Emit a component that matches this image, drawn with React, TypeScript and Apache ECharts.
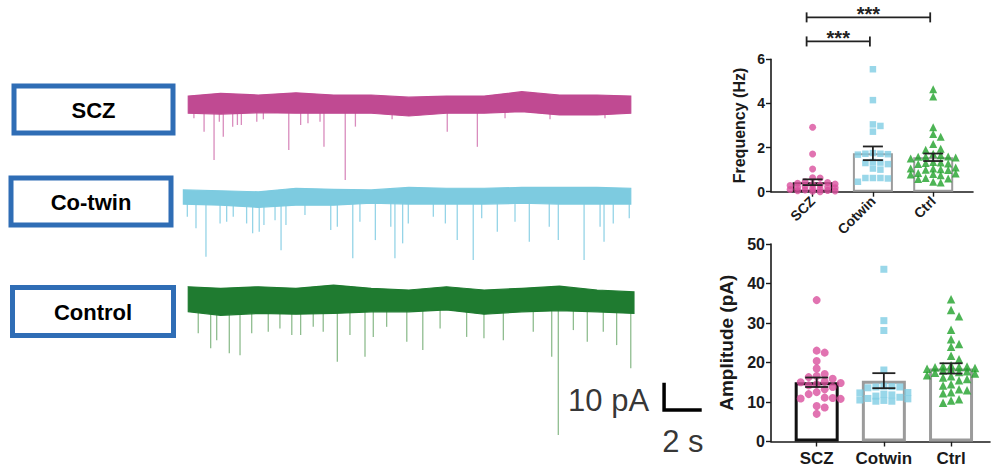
import React, { useEffect, useRef } from 'react';
import * as echarts from 'echarts';

// ---------- bar-chart data ----------
const groups = ['SCZ', 'Cotwin', 'Ctrl'];

const freqSCZ = [2.92, 1.71, 1.03, 0.63, 0.62, 0.45, 0.42, 0.38, 0.35, 0.32, 0.3, 0.28, 0.25, 0.22, 0.2, 0.18, 0.15, 0.12, 0.1, 0.08, 0.06, 0.05, 0.03, 0.02, 0.0];
const freqCotwin = [5.55, 4.15, 3.05, 2.98, 2.72, 1.75, 1.72, 1.7, 1.72, 1.68, 1.35, 1.3, 1.25, 1.32, 1.05, 1.0, 0.62, 0.6, 0.62, 0.62, 0.45];
const freqCtrl = [4.64, 4.31, 2.92, 2.61, 2.49, 2.16, 1.95, 1.9, 1.72, 1.65, 1.6, 1.6, 1.58, 1.55, 1.5, 1.35, 1.32, 1.3, 1.28, 1.25, 1.1, 1.05, 1.05, 1.02, 1.0, 0.98, 0.85, 0.82, 0.8, 0.78, 0.75, 0.62, 0.6, 0.58, 0.45, 0.42];
const freqMean = [0.43, 1.74, 1.56];
const freqSem = [0.13, 0.31, 0.17];

const ampSCZ = [35.8, 23.0, 22.5, 20.4, 18.5, 17.1, 16.6, 16.3, 15.9, 15.0, 15.2, 14.8, 14.5, 14.2, 13.8, 13.2, 12.5, 12.0, 11.0, 10.9, 10.8, 11.1, 9.0, 8.6, 7.0];
const ampCotwin = [43.6, 30.6, 28.1, 18.1, 14.0, 13.9, 13.8, 13.8, 13.6, 12.4, 12.3, 11.8, 11.2, 10.8, 10.4, 10.2, 10.2, 10.5, 10.9, 11.5, 12.0];
const ampCtrl = [36.0, 33.3, 31.7, 28.3, 25.9, 24.7, 24.0, 21.7, 20.8, 19.3, 19.1, 19.0, 18.9, 18.8, 18.6, 18.4, 18.2, 18.0, 17.8, 17.6, 17.4, 17.2, 16.8, 16.5, 16.2, 15.8, 15.5, 14.5, 14.2, 13.2, 13.0, 12.5, 12.2, 10.7, 10.4, 9.8];
const ampMean = [15.0, 15.4, 18.5];
const ampSem = [1.2, 1.9, 1.3];

const sigFrom = [0, 0];
const sigTo = [1, 2];
const sigHeight = [6.81, 7.9];
const sigText = ['***', '***'];

// ---------- trace data (time in s, current in pA) ----------
const traceLabels = ['SCZ', 'Co-twin', 'Control'];
const envT = [0, 2, 4, 6, 8, 10, 12, 14, 16, 18, 20, 22, 24];
const sczTop = [2.9, 3.9, 3.3, 4.1, 3.3, 3.3, 2.5, 2.9, 2.9, 4.5, 3.3, 3.3, 2.9];
const sczBottom = [-3.4, -3.7, -3.2, -3.4, -3.4, -3.4, -4.4, -3.4, -3.4, -2.8, -4.0, -4.0, -3.4];
const cotwinTop = [2.8, 2.5, 2.1, 3.4, 3.0, 2.8, 3.7, 3.4, 3.4, 3.7, 3.7, 3.7, 3.4];
const cotwinBottom = [-2.4, -2.8, -3.6, -2.8, -2.8, -2.1, -2.4, -2.4, -2.4, -2.1, -2.4, -2.4, -2.4];
const ctrlTop = [4.9, 4.3, 4.9, 4.3, 5.5, 4.3, 3.7, 4.9, 3.7, 4.3, 5.1, 3.7, 3.0];
const ctrlBottom = [-4.3, -5.6, -4.9, -5.2, -4.9, -4.3, -4.3, -3.6, -5.2, -4.3, -3.9, -4.3, -4.9];
const sczSpan = [0.28, 23.79];
const cotwinSpan = [0.02, 23.79];
const ctrlSpan = [0.28, 23.96];

const sczSpikeT = [0.58, 1.12, 1.65, 1.93, 2.14, 2.64, 2.89, 3.1, 3.92, 4.27, 5.62, 6.25, 6.64, 7.28, 7.49, 8.62, 9.16, 11.11, 14.04, 15.64, 17.11, 19.5, 22.42];
const sczSpikeA = [5.2, 10.2, 20.5, 6.5, 12.0, 8.3, 7.7, 7.7, 6.5, 5.6, 16.9, 7.7, 7.1, 6.5, 15.7, 27.9, 8.3, 5.6, 10.2, 15.7, 5.2, 5.6, 5.2];
const cotwinSpikeT = [0.23, 0.69, 1.22, 1.97, 2.32, 2.67, 3.38, 3.7, 4.05, 4.3, 4.89, 5.21, 5.47, 6.48, 7.85, 8.2, 9.02, 9.4, 10.22, 11.04, 11.26, 11.67, 11.97, 13.3, 13.94, 14.57, 15.42, 15.87, 16.7, 17.64, 18.4, 19.46, 19.94, 21.31, 22.16, 22.37, 22.86, 23.71];
const cotwinSpikeA = [7.0, 11.3, 21.7, 9.5, 8.9, 7.0, 9.5, 13.1, 12.5, 10.1, 8.3, 19.3, 10.1, 6.4, 11.9, 10.7, 22.3, 8.9, 15.6, 10.7, 22.3, 16.8, 9.5, 7.0, 9.5, 15.6, 22.9, 7.6, 12.5, 8.9, 16.2, 10.7, 15.6, 22.9, 10.7, 16.2, 9.5, 7.6];
const ctrlSpikeT = [0.81, 1.47, 1.79, 2.46, 3.03, 3.65, 4.53, 5.15, 5.78, 6.25, 6.92, 7.45, 8.2, 8.87, 9.67, 10.11, 10.82, 11.89, 12.74, 13.66, 15.07, 15.99, 17.02, 18.61, 19.59, 19.94, 20.74, 21.48, 22.33, 23.04, 23.79];
const ctrlSpikeA = [12.2, 17.7, 14.7, 19.5, 20.2, 12.2, 11.6, 10.4, 12.8, 12.8, 9.8, 11.6, 22.6, 12.8, 20.8, 13.5, 9.8, 15.3, 18.3, 10.4, 13.5, 14.0, 14.7, 11.6, 20.8, 49.5, 11.0, 15.3, 11.6, 16.5, 25.0];

const scaleBarPA = 10;
const scaleBarS = 2;

// ---------- layout constants ----------
const traceOffset = [-8.8, -43.1, -80.7];
const scaleOrigin = [25.56, -121];
const boxes = [
  { x: 14, y: 86, w: 159, h: 47 },
  { x: 11, y: 178, w: 160, h: 47 },
  { x: 12.5, y: 287.5, w: 161, h: 48 },
];
const FONT = 'Liberation Sans, Arial, sans-serif';
const traceColors = ['#c04a92', '#7dcbe0', '#1f7b30'];
const spikeColors = ['#d98cbd', '#95d4e7', '#8fbd8f'];
const ptColors = ['#d9509e', '#7fcde4', '#20a12b'];
const ptSymbols = ['circle', 'rect', 'triangle'];
const barBorders = ['#111111', '#9b9b9b', '#9b9b9b'];

function swarm(vals: number[], pxX: number, pxY: number, step: number, minD: number, maxK: number) {
  const order = vals.map((_, i) => i).sort((a, b) => vals[b] - vals[a]);
  const placed: [number, number][] = [];
  const out: number[] = new Array(vals.length).fill(0);
  for (const i of order) {
    const y = vals[i] * pxY;
    let bestX = 0;
    let bestD = -1;
    for (let j = 0; j <= 2 * maxK; j++) {
      const k = j === 0 ? 0 : j % 2 === 1 ? (j + 1) / 2 : -(j / 2);
      const x = k * step;
      let d = Infinity;
      for (const [px, py] of placed) d = Math.min(d, Math.hypot(px - x, py - y));
      if (d >= minD) { bestX = x; bestD = d; break; }
      if (d > bestD) { bestD = d; bestX = x; }
    }
    placed.push([bestX, y]);
    out[i] = bestX / pxX;
  }
  return out;
}

export default function App() {
  const ref = useRef<HTMLDivElement>(null);
  useEffect(() => {
    document.body.style.margin = '0';
    const chart = echarts.init(ref.current!, undefined, { renderer: 'svg' });

    const freqSets = [freqSCZ, freqCotwin, freqCtrl];
    const ampSets = [ampSCZ, ampCotwin, ampCtrl];
    const tops = [sczTop, cotwinTop, ctrlTop];
    const bottoms = [sczBottom, cotwinBottom, ctrlBottom];
    const spans = [sczSpan, cotwinSpan, ctrlSpan];
    const spikeTs = [sczSpikeT, cotwinSpikeT, ctrlSpikeT];
    const spikeAs = [sczSpikeA, cotwinSpikeA, ctrlSpikeA];

    const series: any[] = [];

    // traces
    for (let k = 0; k < 3; k++) {
      const off = traceOffset[k];
      series.push({
        type: 'custom', xAxisIndex: 0, yAxisIndex: 0, z: 2,
        data: spikeTs[k].map((t, i) => [t, spikeAs[k][i]]),
        renderItem: (p: any, api: any) => {
          const t = api.value(0), a = api.value(1);
          const p1 = api.coord([t, off]);
          const p2 = api.coord([t, off - a]);
          return { type: 'line', shape: { x1: p1[0], y1: p1[1], x2: p2[0], y2: p2[1] }, style: { stroke: spikeColors[k], lineWidth: 1.3 } };
        },
      });
      series.push({
        type: 'custom', xAxisIndex: 0, yAxisIndex: 0, z: 3,
        data: [[spans[k][0], off]],
        renderItem: (p: any, api: any) => {
          const n = envT.length;
          const tAt = (i: number) => (i === 0 ? spans[k][0] : i === n - 1 ? spans[k][1] : envT[i]);
          const pts: number[][] = [];
          for (let i = 0; i < n; i++) pts.push(api.coord([tAt(i), off + tops[k][i]]));
          for (let i = n - 1; i >= 0; i--) pts.push(api.coord([tAt(i), off + bottoms[k][i]]));
          return {
            type: 'polygon', shape: { points: pts },
            style: { fill: traceColors[k], stroke: traceColors[k], lineWidth: 1.2 },
          };
        },
      });
    }
    // scale bar
    series.push({
      type: 'line', xAxisIndex: 0, yAxisIndex: 0, symbol: 'none', z: 5,
      data: [[scaleOrigin[0], scaleOrigin[1] + scaleBarPA], scaleOrigin, [scaleOrigin[0] + scaleBarS, scaleOrigin[1]]],
      lineStyle: { color: '#000', width: 3.5, join: 'miter' },
    });
    series.push({
      type: 'scatter', xAxisIndex: 0, yAxisIndex: 0, symbolSize: 0, z: 5,
      data: [
        { value: [scaleOrigin[0], scaleOrigin[1] + scaleBarPA / 2], label: { formatter: `${scaleBarPA} pA`, position: 'left', distance: 15, offset: [0, 4] } },
        { value: [scaleOrigin[0] + scaleBarS / 2, scaleOrigin[1]], label: { formatter: `${scaleBarS} s`, position: 'bottom', distance: 16 } },
      ],
      label: { show: true, color: '#000', fontSize: 31, fontFamily: FONT },
    });

    // bar charts
    const charts = [
      { sets: freqSets, mean: freqMean, sem: freqSem, ax: 1, pxX: 60.3, pxY: 22.07, sizes: [7, 6.5, 8], bw: 40, bwd: 2, cap: 10, step: 7.5, minD: 6.5 },
      { sets: ampSets, mean: ampMean, sem: ampSem, ax: 2, pxX: 67.2, pxY: 3.95, sizes: [8, 7, 8.5], bw: 44, bwd: 3, cap: 11.5, step: 8, minD: 7.5 },
    ];
    for (const c of charts) {
      series.push({
        type: 'bar', xAxisIndex: c.ax, yAxisIndex: c.ax, barWidth: c.bw, z: 2,
        data: c.mean.map((m, i) => ({ value: [i, m], itemStyle: { color: 'rgba(255,255,255,0)', borderColor: barBorders[i], borderWidth: c.bwd } })),
      });
      for (let g = 0; g < 3; g++) {
        const offs = swarm(c.sets[g], c.pxX, c.pxY, c.step, c.minD, 3);
        series.push({
          type: 'scatter', xAxisIndex: c.ax, yAxisIndex: c.ax, clip: false, z: 3,
          symbol: ptSymbols[g], symbolSize: c.sizes[g],
          itemStyle: { color: ptColors[g] },
          data: c.sets[g].map((v, i) => [g + offs[i], v]),
        });
      }
      series.push({
        type: 'custom', xAxisIndex: c.ax, yAxisIndex: c.ax, z: 4,
        data: c.mean.map((m, i) => [i, m, c.sem[i]]),
        renderItem: (p: any, api: any) => {
          const x = api.value(0), m = api.value(1), s = api.value(2);
          const a = api.coord([x, m + s]);
          const b = api.coord([x, m - s]);
          const st = { stroke: '#222', lineWidth: 1.8 };
          return {
            type: 'group', children: [
              { type: 'line', shape: { x1: a[0], y1: a[1], x2: b[0], y2: b[1] }, style: st },
              { type: 'line', shape: { x1: a[0] - c.cap, y1: a[1], x2: a[0] + c.cap, y2: a[1] }, style: st },
              { type: 'line', shape: { x1: b[0] - c.cap, y1: b[1], x2: b[0] + c.cap, y2: b[1] }, style: st },
            ],
          };
        },
      });
    }
    // significance brackets
    series.push({
      type: 'custom', xAxisIndex: 1, yAxisIndex: 1, clip: false, z: 4,
      data: sigFrom.map((f, i) => [f, sigTo[i], sigHeight[i]]),
      renderItem: (p: any, api: any) => {
        const a = api.coord([api.value(0), api.value(2)]);
        const b = api.coord([api.value(1), api.value(2)]);
        const x1 = a[0] - 6, x2 = b[0] - 3, y = a[1];
        const st = { stroke: '#222', lineWidth: 1.8 };
        return {
          type: 'group', children: [
            { type: 'line', shape: { x1, y1: y, x2, y2: y }, style: st },
            { type: 'line', shape: { x1, y1: y - 5, x2: x1, y2: y + 5 }, style: st },
            { type: 'line', shape: { x1: x2, y1: y - 5, x2, y2: y + 5 }, style: st },
            { type: 'text', style: { text: sigText[p.dataIndex], x: (x1 + x2) / 2, y: y - 3, align: 'center', verticalAlign: 'middle', fontSize: 20, fontWeight: 'bold', fontFamily: FONT, fill: '#222' } },
          ],
        };
      },
    });

    const axisLine = { show: true, onZero: false, lineStyle: { color: '#1a1a1a', width: 1.6 } };
    const option: any = {
      animation: false,
      textStyle: { fontFamily: FONT },
      grid: [
        { left: 183, top: 80, width: 527, height: 360 },
        { left: 771, top: 59.3, width: 202, height: 132.4 },
        { left: 771, top: 244, width: 219, height: 197.5 },
      ],
      xAxis: [
        { type: 'value', gridIndex: 0, min: 0, max: 28, show: false },
        {
          type: 'value', gridIndex: 1, min: -0.69, max: 2.66, axisLine, splitLine: { show: false },
          axisTick: { show: true, customValues: [0, 1, 2], length: 5, lineStyle: { color: '#1a1a1a', width: 1.4 } },
          axisLabel: { customValues: [0, 1, 2], formatter: (v: number) => groups[Math.round(v)], rotate: 45, margin: 7, fontSize: 14, fontWeight: 'bold', color: '#1a1a1a', fontFamily: FONT },
        },
        {
          type: 'value', gridIndex: 2, min: -0.68, max: 2.58, axisLine, splitLine: { show: false },
          axisTick: { show: true, customValues: [0, 1, 2], length: 5, lineStyle: { color: '#1a1a1a', width: 1.4 } },
          axisLabel: { customValues: [0, 1, 2], formatter: (v: number) => groups[Math.round(v)], margin: 8, fontSize: 17, fontWeight: 'bold', color: '#1a1a1a', fontFamily: FONT },
        },
      ],
      yAxis: [
        { type: 'value', gridIndex: 0, min: -132, max: 0, show: false },
        {
          type: 'value', gridIndex: 1, min: 0, max: 6, interval: 2, axisLine, splitLine: { show: false },
          axisTick: { show: true, length: 5, lineStyle: { color: '#1a1a1a', width: 1.4 } },
          axisLabel: { fontSize: 14, fontWeight: 'bold', color: '#1a1a1a', margin: 6, fontFamily: FONT },
          name: 'Frequency (Hz)', nameLocation: 'middle', nameGap: 24,
          nameTextStyle: { fontSize: 16, fontWeight: 'bold', color: '#1a1a1a', fontFamily: FONT },
        },
        {
          type: 'value', gridIndex: 2, min: 0, max: 50, interval: 10, axisLine, splitLine: { show: false },
          axisTick: { show: true, length: 5, lineStyle: { color: '#1a1a1a', width: 1.4 } },
          axisLabel: { fontSize: 16, fontWeight: 'bold', color: '#1a1a1a', margin: 6, fontFamily: FONT },
          name: 'Amplitude (pA)', nameLocation: 'middle', nameGap: 35,
          nameTextStyle: { fontSize: 19, fontWeight: 'bold', color: '#1a1a1a', fontFamily: FONT },
        },
      ],
      graphic: traceLabels.map((t, i) => ({
        type: 'group', children: [
          { type: 'rect', shape: { x: boxes[i].x, y: boxes[i].y, width: boxes[i].w, height: boxes[i].h }, style: { fill: '#fff', stroke: '#2f6db5', lineWidth: 5 } },
          { type: 'text', style: { text: t, x: boxes[i].x + boxes[i].w / 2, y: boxes[i].y + boxes[i].h / 2 + 1, align: 'center', verticalAlign: 'middle', fontSize: 22, fontWeight: 'bold', fontFamily: FONT, fill: '#000' } },
        ],
      })),
      series,
    };
    chart.setOption(option);
    return () => chart.dispose();
  }, []);
  return <div ref={ref} style={{ width: 993, height: 469 }} />;
}
